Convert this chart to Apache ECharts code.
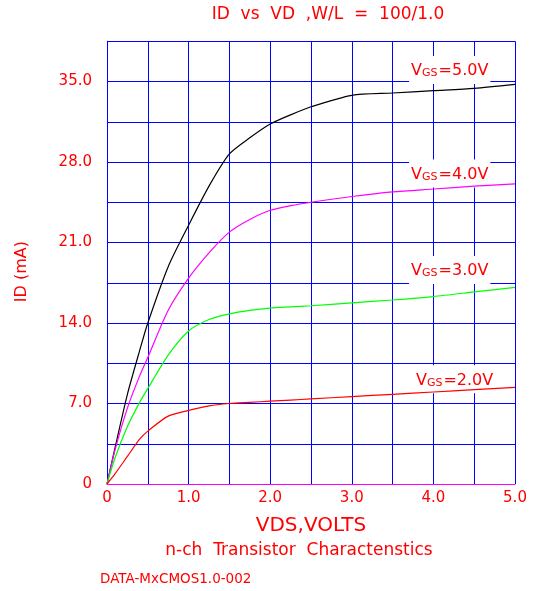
<!DOCTYPE html>
<html>
<head>
<meta charset="utf-8">
<script src="https://cdn.jsdelivr.net/npm/echarts@6/dist/echarts.min.js"></script>
<style>
html,body{margin:0;padding:0;background:#fff;}
#chart{width:540px;height:591px;}
</style>
</head>
<body>
<div id="chart"></div>
<script>
// VDS (volts)
const vds = [0, 0.1, 0.25, 0.4, 0.5, 0.75, 1.0, 1.25, 1.5, 1.75, 2.0, 2.25, 2.5, 3.0, 3.5, 4.0, 4.5, 5.0];
// ID (mA) for each VGS
const id_vgs5 = [0, 3.2, 7.8, 11.6, 14.0, 18.9, 22.5, 25.9, 28.7, 30.1, 31.3, 32.1, 32.8, 33.8, 34.0, 34.2, 34.4, 34.75];
const id_vgs4 = [0, 3.0, 6.6, 9.4, 11.0, 15.1, 17.9, 20.1, 21.9, 23.0, 23.8, 24.2, 24.5, 25.0, 25.4, 25.65, 25.9, 26.1];
const id_vgs3 = [0, 2.3, 5.0, 7.1, 8.3, 11.2, 13.3, 14.3, 14.8, 15.1, 15.3, 15.4, 15.5, 15.75, 16.0, 16.3, 16.7, 17.1];
const id_vgs2 = [0, 0.9, 2.4, 3.9, 4.6, 5.9, 6.4, 6.8, 7.0, 7.1, 7.2, 7.3, 7.4, 7.6, 7.8, 8.0, 8.2, 8.4];
const seriesNames = ['5.0V', '4.0V', '3.0V', '2.0V'];
const xTickLabels = ['0', '1.0', '2.0', '3.0', '4.0', '5.0'];
const yTickLabels = ['0', '7.0', '14.0', '21.0', '28.0', '35.0'];

const FONT = 'DejaVu Sans';
const RED = '#ff0000';

function pairs(ys){ return vds.map((x,i)=>[x, ys[i]]); }

const labelPos = [[4.2, 36.0], [4.2, 27.0], [4.2, 18.6], [4.26, 9.1]];
const colors = ['#000000', '#ff00ff', '#00ff00', '#ff0000'];
const allData = [id_vgs5, id_vgs4, id_vgs3, id_vgs2];

const series = allData.map((d, k) => ({
  type: 'line',
  name: seriesNames[k],
  data: pairs(d),
  showSymbol: false,
  smooth: 0.25,
  lineStyle: {color: colors[k], width: 1.2},
  itemStyle: {color: colors[k]},
  z: 3,
  markPoint: {
    symbol: 'rect',
    symbolSize: 0,
    silent: true,
    z: 2,
    data: [{coord: labelPos[k]}],
    label: {
      show: true,
      position: 'inside',
      formatter: '{v|V}{s|GS}{v|=' + seriesNames[k] + '}',
      backgroundColor: '#ffffff',
      padding: [5, 2, 5, 2],
      rich: {
        v: {fontFamily: FONT, fontSize: 16, color: RED, verticalAlign: 'bottom', lineHeight: 18},
        s: {fontFamily: FONT, fontSize: 11, color: RED, verticalAlign: 'bottom', lineHeight: 14, padding:[0,1,0,0]}
      }
    }
  }
}));

const chart = echarts.init(document.getElementById('chart'), null, {renderer: 'canvas'});
chart.setOption({
  backgroundColor: '#ffffff',
  animation: false,
  grid: {left: 107, right: 25, top: 41.25, bottom: 107, containLabel: false},
  xAxis: {
    type: 'value', min: 0, max: 5, interval: 0.5,
    name: 'VDS,VOLTS', nameLocation: 'middle', nameGap: 32,
    nameTextStyle: {fontFamily: FONT, fontSize: 20, color: RED},
    axisLine: {show: true, lineStyle: {color: '#ff00ff', width: 1}},
    axisTick: {show: false},
    axisLabel: {
      color: RED, fontFamily: FONT, fontSize: 15, margin: 7,
      formatter: v => (Math.abs(v - Math.round(v)) < 1e-6 ? xTickLabels[Math.round(v)] : '')
    },
    splitLine: {show: true, lineStyle: {color: '#0000ff', width: 1}}
  },
  yAxis: {
    type: 'value', min: 0, max: 38.5, interval: 3.5,
    name: 'ID (mA)', nameLocation: 'middle', nameGap: 77, nameRotate: 90,
    nameTextStyle: {fontFamily: FONT, fontSize: 16, color: RED, padding: [0, 18, 0, 0]},
    axisLine: {show: true, lineStyle: {color: '#0000ff', width: 1}},
    axisTick: {show: false},
    axisLabel: {
      color: RED, fontFamily: FONT, fontSize: 15, margin: 15,
      formatter: v => {
        const q = v / 7;
        return Math.abs(q - Math.round(q)) < 1e-6 ? (yTickLabels[Math.round(q)] || '') : '';
      }
    },
    splitLine: {show: true, lineStyle: {color: '#0000ff', width: 1}}
  },
  graphic: [
    {type: 'text', x: 328, y: 15, style: {text: 'ID  vs  VD  ,W/L  =  100/1.0', fill: RED, font: '17px "DejaVu Sans"', textAlign: 'center', textVerticalAlign: 'middle'}},
    {type: 'text', x: 299, y: 551, style: {text: 'n-ch  Transistor  Charactenstics', fill: RED, font: '17px "DejaVu Sans"', textAlign: 'center', textVerticalAlign: 'middle'}},
    {type: 'text', x: 100, y: 579, style: {text: 'DATA-MxCMOS1.0-002', fill: RED, font: '13.5px "DejaVu Sans"', textAlign: 'left', textVerticalAlign: 'middle'}}
  ],
  series: series
});
</script>
</body>
</html>
